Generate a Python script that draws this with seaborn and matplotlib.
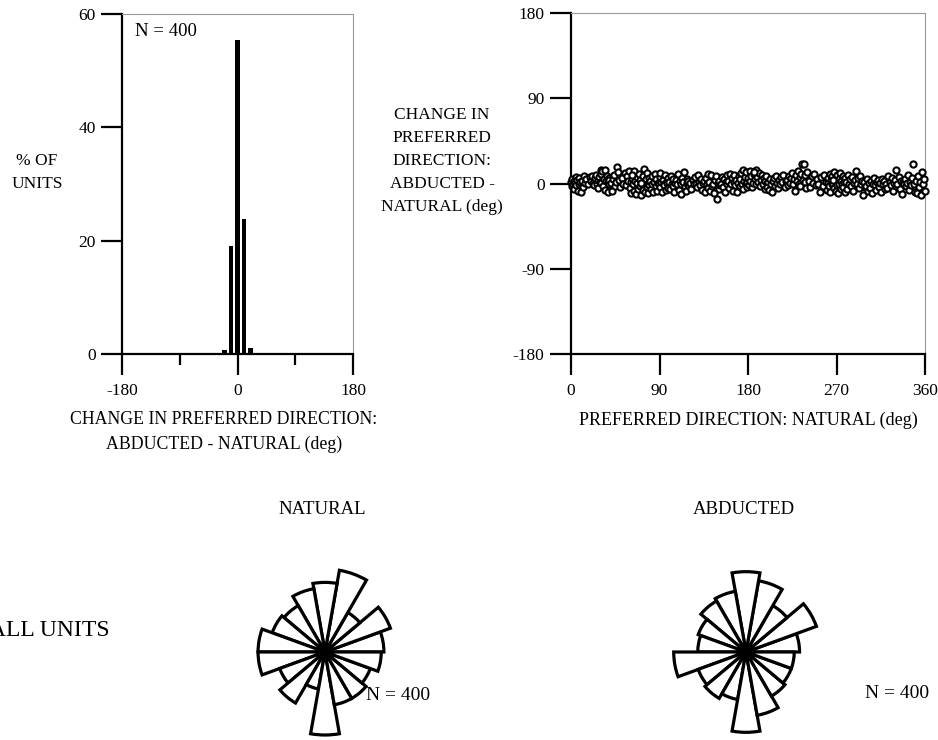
import numpy as np
import pandas as pd
import matplotlib
matplotlib.use("Agg")
import matplotlib.pyplot as plt
import seaborn as sns

# ── data ──────────────────────────────────────────────────────────────────
# histogram: change in preferred direction (abducted - natural), % of units
hist_center = [-20, -10, 0, 10, 20]
hist_pct = [0.75, 19.0, 55.5, 23.75, 1.0]

# rose plots: number of units per 20 deg bin (bin starts at 0, 20, ..., 340)
rose_start = list(range(0, 360, 20))
rose_natural = [22, 26, 17, 31, 26, 24, 20, 21, 25, 25, 18, 22, 14, 31, 20, 20, 18, 21]
rose_abducted = [20, 28, 20, 27, 30, 23, 22, 19, 18, 27, 19, 20, 18, 30, 24, 19, 18, 18]

# scatter: (preferred direction natural, change abducted - natural), deg
pts_000 = [(0, 2), (1, -3), (1, 5), (2, 0), (3, -6), (3, 3), (4, 1), (5, -2), (5, 7), (6, 4), (7, -8),
           (8, 0), (8, 6), (9, 2), (10, -9), (11, 3), (12, -4), (13, 8), (14, 1), (15, 5), (17, -1), (19, 7)]
pts_020 = [(20, 3), (21, 8), (22, 1), (23, -2), (24, 6), (25, 9), (26, 0), (27, 4), (27, -5), (28, 7),
           (29, 2), (30, 14), (31, 10), (31, 1), (32, 13), (33, -3), (34, 5), (35, 14), (35, -7), (36, 3),
           (37, 8), (38, -9), (38, 2), (39, 6), (39, 0), (39, 4)]
pts_040 = [(41, 1), (42, -8), (43, 5), (44, 9), (45, -3), (46, 2), (47, 17), (48, 12), (49, 4), (50, -4),
           (52, 6), (53, 0), (55, 11), (56, -2), (57, 8), (58, 3), (59, 13)]
pts_060 = [(60, -5), (61, 2), (61, -10), (62, 6), (63, 0), (64, -8), (64, 13), (65, 3), (66, -11), (67, 1),
           (67, 7), (68, -6), (69, 10), (70, -3), (70, 4), (71, -12), (72, 0), (73, 8), (73, -7), (74, 15),
           (75, 2), (75, -9), (76, 5), (77, -4), (77, 11), (78, 0), (78, -10), (79, 6), (79, -2), (62, 9), (71, 1)]
pts_080 = [(80, 3), (81, -6), (82, 0), (82, 8), (83, -9), (84, 2), (85, 10), (86, -3), (86, 5), (87, -8),
           (88, 1), (89, 0), (90, 7), (91, -4), (91, 11), (92, 2), (93, -9), (94, 4), (95, 0), (95, -2),
           (96, 9), (97, -7), (98, 3), (98, 1), (99, -5), (99, 6)]
pts_100 = [(100, 2), (101, -6), (102, 8), (103, 0), (104, -3), (104, 5), (105, -9), (106, 1), (107, 4),
           (108, -1), (109, 10), (110, -7), (111, 3), (112, 0), (112, -11), (113, 6), (114, 2), (115, 12),
           (116, -4), (117, -8), (118, 1), (118, 5), (119, -2), (119, 3)]
pts_120 = [(120, -3), (121, 1), (122, -6), (124, 4), (125, -1), (126, 7), (127, 0), (128, -4), (129, 9),
           (130, 2), (131, -2), (132, 5), (133, -7), (134, 1), (135, 3), (136, -9), (137, 6), (138, -1),
           (139, 10), (139, -5)]
pts_140 = [(140, 2), (141, -8), (142, 9), (143, -3), (144, 0), (145, -10), (146, 4), (147, 8), (148, -16),
           (149, 1), (150, -6), (151, 3), (152, -2), (153, 0), (154, 7), (155, -4), (156, 5), (157, -9),
           (158, 2), (159, 9), (159, -1)]
pts_160 = [(160, 3), (161, -5), (162, 10), (163, 0), (164, 6), (165, -8), (166, 2), (166, 9), (167, -2),
           (168, 4), (169, -9), (170, 1), (171, 8), (172, -3), (172, 5), (173, 11), (174, 0), (175, 14),
           (175, -6), (176, 3), (177, 7), (178, -1), (178, 12), (179, 2), (179, -4)]
pts_180 = [(180, 6), (181, -2), (182, 13), (182, 3), (183, 8), (184, -4), (185, 1), (186, 10), (187, 5),
           (188, -1), (188, 14), (189, 7), (190, 2), (191, 11), (192, -3), (193, 4), (194, 9), (195, 0),
           (196, 6), (197, -6), (197, 3), (198, 8), (199, 1), (199, -4), (186, 12)]
pts_200 = [(200, 2), (201, -7), (202, 5), (203, 0), (204, -9), (205, 3), (206, 6), (207, -3), (208, 8),
           (209, 1), (210, -5), (212, 4), (213, -1), (214, 7), (215, 2), (216, 9), (218, -4), (219, 3)]
pts_220 = [(220, 4), (221, -2), (222, 8), (223, 1), (224, 6), (225, 11), (226, -1), (227, 5), (228, -8),
           (229, 9), (230, 3), (231, 13), (232, 0), (233, 7), (233, -3), (234, 10), (235, 21), (236, 4),
           (237, 21), (238, 2), (238, 9), (239, -5)]
pts_240 = [(240, 12), (242, 3), (243, -4), (245, 8), (246, 1), (247, 10), (249, -2), (250, 5), (251, 0),
           (253, -9), (254, 7), (256, -3), (257, 9), (259, 2)]
pts_260 = [(260, -7), (261, 1), (261, 6), (262, -3), (263, 10), (263, -9), (264, 4), (265, -1), (265, 8),
           (266, 0), (267, 12), (267, -5), (268, 3), (269, -8), (269, 7), (270, 1), (271, -2), (271, 9),
           (272, -10), (273, 5), (273, 0), (274, 11), (275, -6), (275, 3), (276, -1), (277, 8), (277, -4),
           (278, 2), (279, 6), (279, -9), (266, 4)]
pts_280 = [(280, 2), (281, -6), (282, 9), (283, 0), (284, 5), (285, -3), (286, 7), (287, -8), (288, 1),
           (289, 4), (290, 13), (291, -1), (292, 6), (293, -5), (294, 8), (295, 0), (296, 3), (297, -12),
           (298, 2), (299, -4)]
pts_300 = [(300, -3), (301, 5), (302, -8), (303, 1), (304, -5), (305, 3), (306, -10), (307, 0), (308, 6),
           (309, -2), (310, -7), (311, 2), (312, 4), (313, -4), (314, 1), (315, -9), (316, 5), (317, -1),
           (318, 3), (319, -6)]
pts_320 = [(320, 0), (321, -5), (322, 8), (324, 2), (325, -2), (326, 6), (327, -8), (328, 1), (329, 4),
           (330, 14), (331, -3), (332, 0), (334, 7), (335, -6), (336, 3), (337, -11), (338, 2), (339, -1)]
pts_340 = [(340, 5), (341, -3), (342, 1), (343, 9), (344, -7), (345, 2), (346, -2), (347, 6), (348, 21),
           (349, 0), (350, -9), (351, 3), (352, -10), (353, 8), (354, -4), (355, 2), (356, -12), (357, 12),
           (358, 0), (359, 5), (360, -8)]

# ── layout (pixels in a 938 x 740 canvas) ─────────────────────────────────
W, H = 938, 740


def box(left, top, right, bottom):
    return [left / W, 1 - bottom / H, (right - left) / W, (bottom - top) / H]


def put(fig, x, y, s, **kw):
    kw.setdefault("ha", "center")
    kw.setdefault("va", "center")
    return fig.text(x / W, 1 - y / H, s, fontsize=kw.pop("size", 12.5), **kw)


def style_frame(ax):
    for side in ("left", "bottom"):
        ax.spines[side].set_linewidth(1.6)
        ax.spines[side].set_color("black")
    for side in ("top", "right"):
        ax.spines[side].set_visible(True)
        ax.spines[side].set_linewidth(0.8)
        ax.spines[side].set_color("#9a9a9a")
    ax.tick_params(which="major", direction="out", length=15, width=1.6,
                   color="black", labelcolor="black", labelsize=12.5)
    ax.tick_params(axis="x", which="major", pad=6)
    ax.tick_params(axis="y", which="major", pad=4)
    ax.tick_params(which="minor", direction="out", length=8, width=1.6, color="black")
    ax.set_xlabel("")
    ax.set_ylabel("")
    ax.grid(False)


def rose(fig, cx, cy, counts):
    R = 100
    ax = fig.add_axes(box(cx - R, cy - R, cx + R, cy + R), projection="polar")
    theta = np.deg2rad(np.array(rose_start) + 10)
    ax.bar(theta, counts, width=np.deg2rad(20), bottom=0,
           color="white", edgecolor="black", linewidth=2.3)
    ax.set_ylim(0, 31 * R / 83)
    ax.set_axis_off()
    return ax


def main():
    sns.set_theme(style="ticks")
    plt.rcParams["font.family"] = ["Liberation Serif", "DejaVu Serif"]
    plt.rcParams["axes.unicode_minus"] = False
    plt.rcParams["text.color"] = "black"

    pts = (pts_000 + pts_020 + pts_040 + pts_060 + pts_080 + pts_100 + pts_120 + pts_140 + pts_160
           + pts_180 + pts_200 + pts_220 + pts_240 + pts_260 + pts_280 + pts_300 + pts_320 + pts_340)
    df = pd.DataFrame(pts, columns=["natural", "change"])

    fig = plt.figure(figsize=(W / 100, H / 100), dpi=100)

    # ── histogram ──
    ax1 = fig.add_axes(box(122, 14, 353, 354))
    sns.histplot(x=hist_center, weights=hist_pct, binwidth=10, binrange=(-25, 25),
                 shrink=0.7, color="black", edgecolor="black", linewidth=0,
                 alpha=1, ax=ax1)
    ax1.set_xlim(-180, 180)
    ax1.set_ylim(0, 60)
    ax1.set_xticks([-180, 0, 180])
    ax1.set_xticks([-90, 90], minor=True)
    ax1.set_yticks([0, 20, 40, 60])
    style_frame(ax1)
    put(fig, 135, 31, "N = 400", ha="left", size=13.5)

    # ── scatter ──
    ax2 = fig.add_axes(box(571, 13, 925, 354))
    sns.scatterplot(data=df, x="natural", y="change", marker="o", s=20,
                    color="white", edgecolor="black", linewidth=1.5, ax=ax2,
                    clip_on=False, zorder=3)
    ax2.set_xlim(0, 360)
    ax2.set_ylim(-180, 180)
    ax2.set_xticks([0, 90, 180, 270, 360])
    ax2.set_yticks([-180, -90, 0, 90, 180])
    style_frame(ax2)

    # ── axis titles ──
    put(fig, 37, 161, "% OF")
    put(fig, 37, 184, "UNITS")
    put(fig, 224, 420, "CHANGE IN PREFERRED DIRECTION:", size=12.8)
    put(fig, 224, 444, "ABDUCTED - NATURAL (deg)", size=12.8)
    for i, line in enumerate(["CHANGE IN", "PREFERRED", "DIRECTION:",
                              "ABDUCTED -", "NATURAL (deg)"]):
        put(fig, 442, 115 + 23 * i, line)
    put(fig, 748, 420, "PREFERRED DIRECTION: NATURAL (deg)", size=13)

    # ── rose plots ──
    put(fig, 322, 509, "NATURAL", size=13.5)
    put(fig, 744, 509, "ABDUCTED", size=13.5)
    put(fig, 110, 630, "ALL UNITS", size=17, ha="right")
    rose(fig, 325, 652, rose_natural)
    rose(fig, 746, 652, rose_abducted)
    put(fig, 398, 696, "N = 400", size=14)
    put(fig, 897, 694, "N = 400", size=14)

    fig.savefig("out.png", dpi=100)
    plt.close(fig)


if __name__ == "__main__":
    main()
